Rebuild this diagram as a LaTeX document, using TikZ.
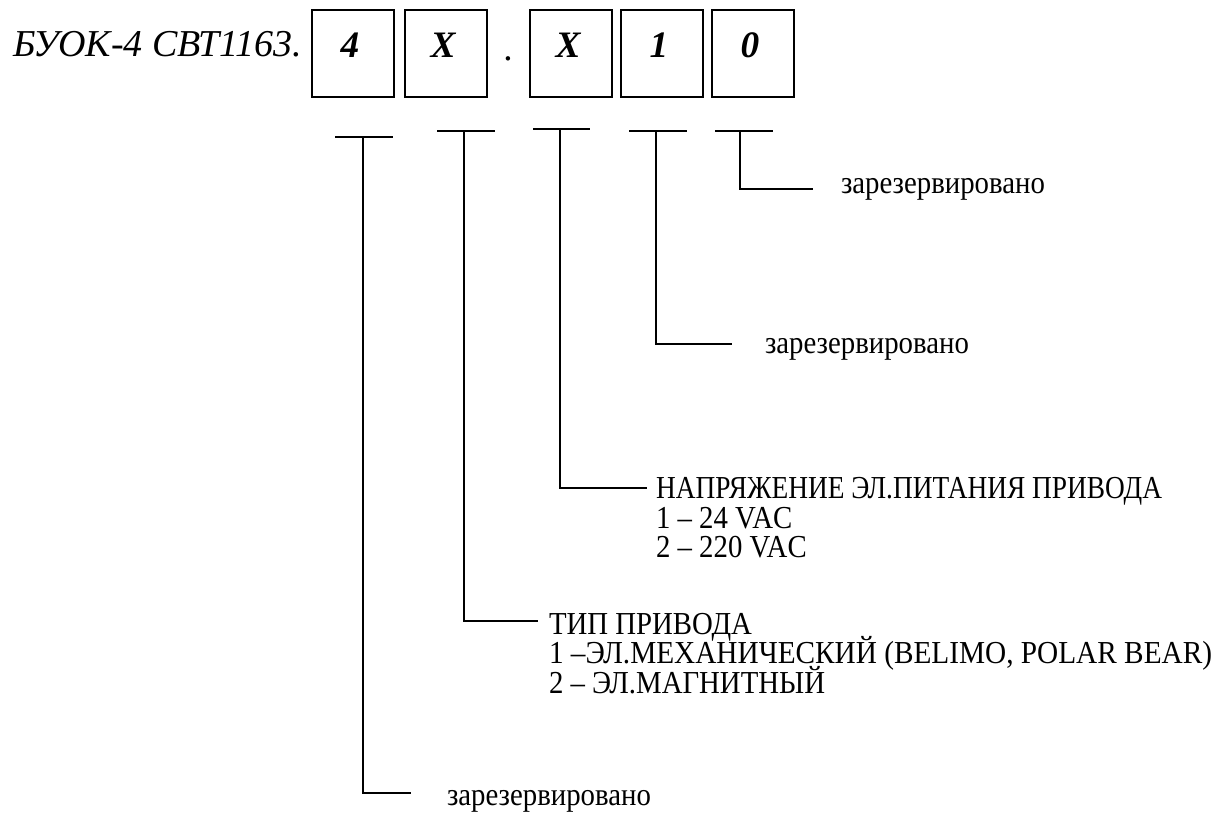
\documentclass[tikz,border=0pt]{standalone}
\usepackage{fontspec}
\setmainfont{Liberation Serif}
\newfontfamily\condserif[FakeStretch=0.9]{Liberation Serif}
\newfontfamily\narrowserif[FakeStretch=0.855]{Liberation Serif}
\newfontfamily\wideserif[FakeStretch=0.915]{Liberation Serif}
\begin{document}
\begin{tikzpicture}[x=0.75pt,y=-0.75pt,
  line width=1.5pt,
  digitbox/.style={draw, line width=1.5pt, minimum width=61.5pt, minimum height=65.25pt, inner sep=0pt},
  digit/.style={anchor=base, inner sep=0pt, font=\fontsize{28}{32}\selectfont\bfseries\itshape},
  titletext/.style={anchor=base west, inner sep=0pt, font=\fontsize{28.5}{32}\selectfont\itshape},
  txt/.style={anchor=base west, inner sep=0pt, font=\condserif\fontsize{24}{22}\selectfont},
  lead/.style={line width=1.4pt}]
\useasboundingbox (0,0) rectangle (1218,814);
% title
\node[titletext] (title) at (12,56) {БУОК-4 СВТ1163.};
% boxes
\node[digitbox] (b1) at (353,53.5) {};
\node[digitbox] (b2) at (446,53.5) {};
\node[digitbox] (b3) at (571,53.5) {};
\node[digitbox] (b4) at (662,53.5) {};
\node[digitbox] (b5) at (753,53.5) {};
\node[digit] (d1) at (350,57) {4};
\node[digit] (d2) at (443,57) {X};
\node[digit, font=\fontsize{28}{32}\selectfont] (dot) at (508,60) {.};
\node[digit] (d3) at (568,57) {X};
\node[digit] (d4) at (659,57) {1};
\node[digit] (d5) at (750,57) {0};
% leader coordinates
\coordinate (a1l) at (335,137); \coordinate (a1r) at (393,137);
\coordinate (a1t) at (363,137); \coordinate (a1c) at (363,793); \coordinate (a1e) at (411,793);
\coordinate (a2l) at (437,131); \coordinate (a2r) at (495,131);
\coordinate (a2t) at (464,131); \coordinate (a2c) at (464,621); \coordinate (a2e) at (538,621);
\coordinate (a3l) at (533,129); \coordinate (a3r) at (590,129);
\coordinate (a3t) at (560,129); \coordinate (a3c) at (560,488); \coordinate (a3e) at (647,488);
\coordinate (a4l) at (629,131); \coordinate (a4r) at (687,131);
\coordinate (a4t) at (656,131); \coordinate (a4c) at (656,344); \coordinate (a4e) at (732,344);
\coordinate (a5l) at (715,131); \coordinate (a5r) at (773,131);
\coordinate (a5t) at (740,131); \coordinate (a5c) at (740,189); \coordinate (a5e) at (813,189);
\foreach \i in {1,...,5}{
  \draw[lead] (a\i l) -- (a\i r);
  \draw[lead] (a\i t) -- (a\i c) -- (a\i e);
}
% texts
\node[txt] (r5) at (840,193) {зарезервировано};
\node[txt] (r4) at (764,353) {зарезервировано};
\node[txt, font=\narrowserif\fontsize{24}{22}\selectfont] (v1) at (655,498) {НАПРЯЖЕНИЕ ЭЛ.ПИТАНИЯ ПРИВОДА};
\node[txt] (v2) at (655,528) {1 – 24 VAC};
\node[txt] (v3) at (655,557) {2 – 220 VAC};
\node[txt] (p1) at (548,634) {ТИП ПРИВОДА};
\node[txt, font=\wideserif\fontsize{24}{22}\selectfont] (p2) at (548,663.5) {1 –ЭЛ.МЕХАНИЧЕСКИЙ (BELIMO, POLAR BEAR)};
\node[txt] (p3) at (548,693) {2 – ЭЛ.МАГНИТНЫЙ};
\node[txt] (r1) at (446,805) {зарезервировано};
\end{tikzpicture}
\end{document}
